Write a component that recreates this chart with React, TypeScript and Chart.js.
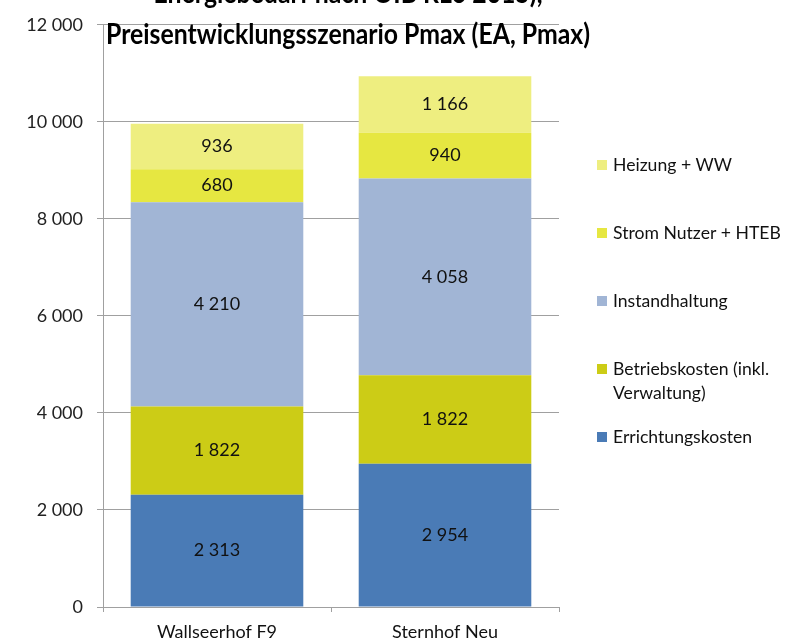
import React, { useEffect, useRef } from "react";
import { Chart, registerables } from "chart.js";

Chart.register(...registerables);

const categories = ["Wallseerhof F9", "Sternhof Neu"];
const seriesNames = [
  "Errichtungskosten",
  "Betriebskosten (inkl. Verwaltung)",
  "Instandhaltung",
  "Strom Nutzer + HTEB",
  "Heizung + WW",
];
const errichtungskosten = [2313, 2954];
const betriebskosten = [1822, 1822];
const instandhaltung = [4210, 4058];
const stromNutzer = [680, 940];
const heizungWW = [936, 1166];
const yTickValues = [0, 2000, 4000, 6000, 8000, 10000, 12000];
const titleLines = [
  "Energiebedarf nach OIB RL6 2015),",
  "Preisentwicklungsszenario Pmax (EA, Pmax)",
];
const seriesColors = ["#4a7bb6", "#cccc16", "#a1b5d5", "#e6e741", "#eeee80"];

const FONT = "Lato, 'Liberation Sans', sans-serif";

const fmt = (v: number) =>
  String(Math.round(v)).replace(/\B(?=(\d{3})+(?!\d))/g, " ");

const dataLabelsPlugin = {
  id: "dataLabels",
  afterDatasetsDraw(chart: any) {
    const ctx = chart.ctx;
    ctx.save();
    ctx.font = `18px ${FONT}`;
    ctx.fillStyle = "#111";
    ctx.textAlign = "center";
    ctx.textBaseline = "middle";
    chart.data.datasets.forEach((ds: any, i: number) => {
      const meta = chart.getDatasetMeta(i);
      meta.data.forEach((bar: any, j: number) => {
        const v = ds.data[j];
        const yc = (bar.y + bar.base) / 2;
        ctx.fillText(fmt(v), bar.x, yc);
      });
    });
    ctx.restore();
  },
};

const wrapText = (ctx: any, text: string, maxW: number) => {
  const words = text.split(" ");
  const lines: string[] = [];
  let cur = "";
  for (const w of words) {
    const t = cur ? cur + " " + w : w;
    if (ctx.measureText(t).width > maxW && cur) {
      lines.push(cur);
      cur = w;
    } else cur = t;
  }
  if (cur) lines.push(cur);
  return lines;
};

const legendPlugin = {
  id: "customLegend",
  afterDraw(chart: any) {
    const ctx = chart.ctx;
    ctx.save();
    ctx.font = `17.6px ${FONT}`;
    ctx.textBaseline = "middle";
    ctx.textAlign = "left";
    const items = chart.data.datasets.slice().reverse();
    items.forEach((ds: any, i: number) => {
      const y = 165 + i * 68;
      ctx.fillStyle = ds.backgroundColor;
      ctx.fillRect(597, y - 5, 10, 10);
      ctx.fillStyle = "#111";
      const lines = wrapText(ctx, ds.label, 176);
      lines.forEach((ln: string, k: number) => {
        ctx.fillText(ln, 613, y + k * 24);
      });
    });
    ctx.restore();
  },
};

const titlePlugin = {
  id: "customTitle",
  afterDraw(chart: any) {
    const ctx = chart.ctx;
    ctx.save();
    ctx.fillStyle = "#fff";
    ctx.fillRect(463, 17, 100, 6);
    ctx.font = `bold 29px ${FONT}`;
    ctx.fillStyle = "#000";
    ctx.textAlign = "center";
    ctx.textBaseline = "alphabetic";
    const cx = 348;
    const baselines = [3, 44];
    const target = 484;
    const w2 = ctx.measureText(titleLines[1]).width;
    const sx = target / w2;
    titleLines.forEach((ln, i) => {
      ctx.save();
      ctx.translate(cx, baselines[i]);
      ctx.scale(sx, 1);
      ctx.fillText(ln, 0, 0);
      ctx.restore();
    });
    ctx.restore();
  },
};

export default function App() {
  const ref = useRef<HTMLCanvasElement | null>(null);
  useEffect(() => {
    if (!ref.current) return;
    const series = [errichtungskosten, betriebskosten, instandhaltung, stromNutzer, heizungWW];
    const chart = new Chart(ref.current, {
      type: "bar",
      data: {
        labels: categories,
        datasets: series.map((d, i) => ({
          label: seriesNames[i],
          data: d,
          backgroundColor: seriesColors[i],
          borderWidth: 0,
          categoryPercentage: 1,
          barPercentage: 0.757,
        })),
      },
      options: {
        responsive: false,
        animation: false,
        layout: { padding: { left: 0, right: 227, top: 20, bottom: 0 } },
        plugins: {
          legend: { display: false },
          title: { display: false },
          tooltip: { enabled: false },
        },
        scales: {
          x: {
            stacked: true,
            offset: true,
            grid: {
              display: true,
              offset: true,
              drawOnChartArea: false,
              drawTicks: true,
              tickLength: 5,
              color: "#a0a0a0",
            },
            border: { display: true, color: "#a0a0a0", width: 1 },
            ticks: {
              color: "#111",
              font: { family: FONT, size: 18 },
              padding: 9,
            },
            afterFit(scale: any) {
              scale.height = 35;
            },
          },
          y: {
            stacked: true,
            min: 0,
            max: 12000,
            afterBuildTicks(scale: any) {
              scale.ticks = yTickValues.map((v) => ({ value: v }));
            },
            grid: {
              color: "#a0a0a0",
              lineWidth: 1,
              tickLength: 6,
            },
            border: { display: true, color: "#a0a0a0", width: 1 },
            ticks: {
              color: "#222",
              font: { family: FONT, size: 18 },
              padding: 14,
              callback: (v: any) => fmt(Number(v)),
            },
            afterFit(scale: any) {
              scale.width = 103;
            },
          },
        },
      },
      plugins: [dataLabelsPlugin, legendPlugin, titlePlugin],
    });
    return () => chart.destroy();
  }, []);
  return (
    <div style={{ position: "absolute", left: 0, top: 0, width: 786, height: 642, background: "#fff" }}>
      <canvas ref={ref} width={786} height={642} />
    </div>
  );
}
